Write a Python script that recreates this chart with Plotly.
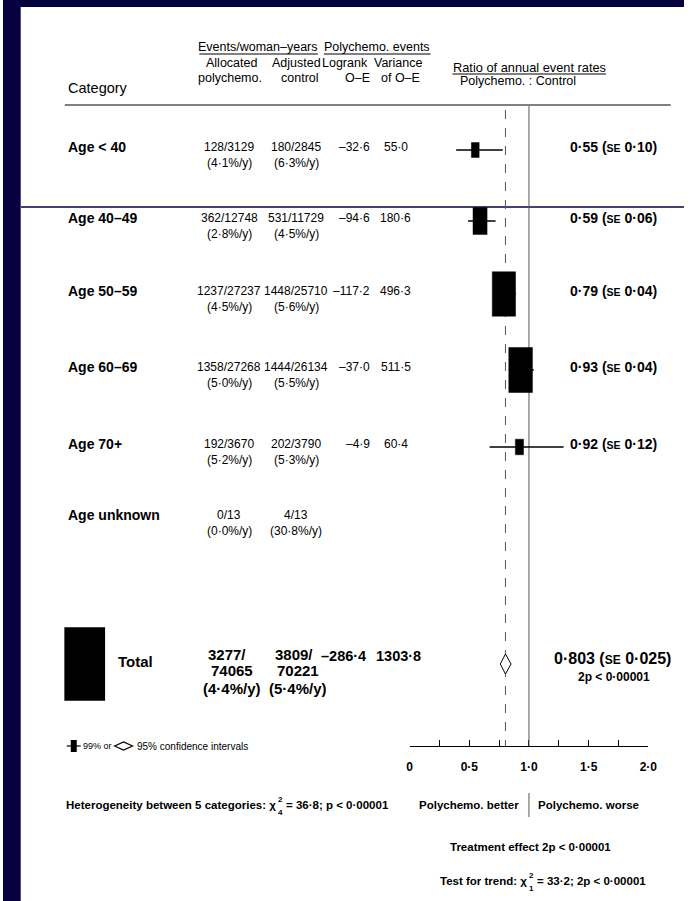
import plotly.graph_objects as go

# ---------------- data ----------------
categories = ["Age < 40", "Age 40–49", "Age 50–59", "Age 60–69", "Age 70+", "Age unknown"]
events_alloc = ["128/3129", "362/12748", "1237/27237", "1358/27268", "192/3670", "0/13"]
rate_alloc = ["(4·1%/y)", "(2·8%/y)", "(4·5%/y)", "(5·0%/y)", "(5·2%/y)", "(0·0%/y)"]
events_ctrl = ["180/2845", "531/11729", "1448/25710", "1444/26134", "202/3790", "4/13"]
rate_ctrl = ["(6·3%/y)", "(4·5%/y)", "(5·6%/y)", "(5·5%/y)", "(5·3%/y)", "(30·8%/y)"]
o_minus_e = [-32.6, -94.6, -117.2, -37.0, -4.9, None]
variance = [55.0, 180.6, 496.3, 511.5, 60.4, None]
ratio = [0.55, 0.59, 0.79, 0.93, 0.92, None]
ratio_se = [0.10, 0.06, 0.04, 0.04, 0.12, None]
ci99_lo = [0.39, 0.49, 0.70, 0.83, 0.67, None]
ci99_hi = [0.78, 0.72, 0.89, 1.04, 1.29, None]

total_alloc = ["3277/", "74065", "(4·4%/y)"]
total_ctrl = ["3809/", "70221", "(5·4%/y)"]
total_oe = -286.4
total_var = 1303.8
total_ratio = 0.803
total_se = 0.025
total_ci95 = [0.76, 0.85]

axis_ticks = [0, 0.5, 1.0, 1.5, 2.0]
axis_ticklabels = ["0", "0·5", "1·0", "1·5", "2·0"]
axis_minor = [0.25, 0.75, 1.25, 1.75]

# ---------------- layout helpers ----------------
W, H = 693, 901
SX = 0.986                       # horizontal compensation of the page capture
XR = W * SX                      # range of the pixel x axis
NAVY = "#060040"
FONT = "Liberation Sans, Arial, Helvetica, sans-serif"
row_y = [147, 218, 291, 367, 444, 515]
box_dy = 3
sub_dy = 16
total_y = 664
axis_y = 746
x_px0, x_px1 = 408, 647.5        # target positions of 0 and 2 on the ratio scale
px_per_unit = (x_px1 - x_px0) / 2.0


def fmt(v, nd=1):
    s = f"{abs(v):.{nd}f}".replace(".", "·")
    return ("–" if v < 0 else "") + s


fig = go.Figure()
ann = []
shapes = []


def text(x, y, s, size=12, bold=False, xanchor="center", yanchor="middle", color="black"):
    ann.append(dict(x=x, y=y, xref="x", yref="y", text=(f"<b>{s}</b>" if bold else s),
                    showarrow=False, xanchor=xanchor, yanchor=yanchor,
                    font=dict(family=FONT, size=size, color=color)))


def pline(x0, y0, x1, y1, color="black", width=1, dash=None, xref="x"):
    d = dict(type="line", x0=x0, y0=y0, x1=x1, y1=y1, xref=xref, yref="y",
             line=dict(color=color, width=width))
    if dash:
        d["line"]["dash"] = dash
    shapes.append(d)


# background bands
shapes.append(dict(type="rect", xref="paper", yref="paper", x0=0, x1=18 / W, y0=0, y1=1,
                   fillcolor=NAVY, line=dict(width=0), layer="below"))
shapes.append(dict(type="rect", xref="paper", yref="paper", x0=0, x1=1, y0=1 - 7 / H, y1=1,
                   fillcolor=NAVY, line=dict(width=0), layer="below"))

# ---------------- header ----------------
HS = 12.5
text(256, 47, "Events/woman–years", HS)
pline(197, 54, 316, 54)
text(375, 47, "Polychemo. events", HS)
pline(322, 54, 429, 54)
text(229, 63, "Allocated", HS)
text(294, 63, "Adjusted", HS)
text(343, 63, "Logrank", HS)
text(396, 63, "Variance", HS)
text(228, 78, "polychemo.", HS)
text(298, 78, "control", HS)
text(356, 78, "O–E", HS)
text(399, 78, "of O–E", HS)
text(63, 88, "Category", 14.5, xanchor="left")
text(528, 67, "Ratio of annual event rates", 12.8)
pline(451, 74, 605, 74)
text(517, 81, "Polychemo. : Control", HS)
pline(62, 105, 670, 105, width=1.2)

# navy horizontal rule across the slide
pline(18, 207, XR, 207, color=NAVY, width=1.5)

# ---------------- reference lines ----------------
pline(1.0, 106, 1.0, axis_y, color="#555555", width=1, xref="x2")
pline(total_ratio, 110, total_ratio, axis_y, color="#555555", width=1, dash="dash", xref="x2")

# ---------------- rows ----------------
NS = 12
for i, cat in enumerate(categories):
    y = row_y[i]
    text(63, y, cat, 14, bold=True, xanchor="left")
    text(227, y, events_alloc[i], NS)
    text(227, y + sub_dy, rate_alloc[i], NS)
    text(294, y, events_ctrl[i], NS)
    text(294, y + sub_dy, rate_ctrl[i], NS)
    if o_minus_e[i] is not None:
        text(370, y, fmt(o_minus_e[i]), NS, xanchor="right")
        text(394, y, fmt(variance[i]), NS)
    if ratio[i] is not None:
        text(658, y, f"{fmt(ratio[i], 2)} (<span style='font-size:10.5px'>SE</span> {fmt(ratio_se[i], 2)})",
             14, bold=True, xanchor="right")
        # box: area proportional to variance
        w_px = (1.1 * variance[i]) ** 0.5
        h_px = 1.9 * w_px
        w_u = w_px / px_per_unit
        yb = y + box_dy
        pline(ci99_lo[i], yb, ci99_hi[i], yb, width=1.3, xref="x2")
        shapes.append(dict(type="rect", xref="x2", yref="y",
                           x0=ratio[i] - w_u / 2, x1=ratio[i] + w_u / 2,
                           y0=yb - h_px / 2, y1=yb + h_px / 2,
                           fillcolor="black", line=dict(color="black", width=0.5)))
        if ci99_lo[i] >= ratio[i] - w_u / 2 and ci99_hi[i] <= ratio[i] + w_u / 2:
            pline(ci99_lo[i], yb, ci99_hi[i], yb, color="white", width=1.3, xref="x2")

# invisible trace to activate the axes
fig.add_trace(go.Scatter(x=ratio[:5], y=[row_y[k] + box_dy for k in range(5)], xaxis="x2", yaxis="y",
                         mode="markers", marker=dict(size=1, color="rgba(0,0,0,0)"),
                         hoverinfo="skip", showlegend=False))

# ---------------- total ----------------
tw = (1.1 * total_var) ** 0.5 + 3
shapes.append(dict(type="rect", xref="x", yref="y", x0=82 - tw / 2, x1=82 + tw / 2,
                   y0=total_y - 1.8 * tw / 2, y1=total_y + 1.8 * tw / 2,
                   fillcolor="black", line=dict(width=0)))
text(113, total_y - 3, "Total", 15, bold=True, xanchor="left")
stack_y = [654, 670, 688]
for k, (a, c) in enumerate(zip(total_alloc, total_ctrl)):
    text(230 if k else 225, stack_y[k], a, 15, bold=True)
    text(296 if k else 292, stack_y[k], c, 15, bold=True)
text(366, 656, fmt(total_oe), 14.5, bold=True, xanchor="right")
text(397, 656, fmt(total_var), 14.5, bold=True)
dh = 10
lo, hi = total_ci95
shapes.append(dict(type="path", xref="x2", yref="y",
                   path=f"M {lo} {total_y} L {total_ratio} {total_y - dh} L {hi} {total_y} "
                        f"L {total_ratio} {total_y + dh} Z",
                   fillcolor="white", line=dict(color="black", width=1)))
text(672, 658, f"{fmt(total_ratio, 3)} (<span style='font-size:12px'>SE</span> {fmt(total_se, 3)})",
     16, bold=True, xanchor="right")
text(613, 677, "2p < 0·00001", 12, bold=True)

# ---------------- legend line ----------------
pline(64, axis_y, 78, axis_y, width=1.2)
shapes.append(dict(type="rect", xref="x", yref="y", x0=68, x1=74, y0=axis_y - 6, y1=axis_y + 6,
                   fillcolor="black", line=dict(width=0)))
text(78, axis_y, "99% or", 9, xanchor="left")
shapes.append(dict(type="path", xref="x", yref="y",
                   path=f"M 112 {axis_y} L 121 {axis_y - 4} L 130 {axis_y} L 121 {axis_y + 4} Z",
                   fillcolor="white", line=dict(color="black", width=1.2)))
text(132, axis_y, "95% confidence intervals", 10, xanchor="left")

# ---------------- bottom texts ----------------
BS = 11.5
BY = 805


def chi_line(x_chi, y, left, sup, sub, right):
    text(x_chi, y, left, BS, bold=True, xanchor="right")
    text(x_chi + 2.5, y - 6, sup, 8, bold=True)
    text(x_chi + 2.5, y + 7, sub, 8, bold=True)
    text(x_chi + 6, y, right, BS, bold=True, xanchor="left")


chi_line(276, BY, "Heterogeneity between 5 categories: χ", "2", "4", "= 36·8; p < 0·00001")
text(520, BY, "Polychemo. better", BS, bold=True, xanchor="right")
pline(1.0, BY - 12, 1.0, BY + 12, color="#555555", width=1, xref="x2")
text(535, BY, "Polychemo. worse", BS, bold=True, xanchor="left")
text(529, 847, "Treatment effect 2p < 0·00001", BS, bold=True)
chi_line(528, 881, "Test for trend: χ", "2", "1", "= 33·2; 2p < 0·00001")

fig.update_layout(
    width=W, height=H, margin=dict(l=0, r=0, t=0, b=0),
    paper_bgcolor="white", plot_bgcolor="rgba(0,0,0,0)", showlegend=False,
    xaxis=dict(range=[0, XR], domain=[0, 1], visible=False, fixedrange=True),
    yaxis=dict(range=[H, 0], domain=[0, 1], visible=False, fixedrange=True),
    xaxis2=dict(range=[0, 2], domain=[x_px0 / XR, x_px1 / XR], anchor="free",
                position=(H - axis_y) / H, showline=True, linecolor="black", linewidth=1,
                ticks="inside", ticklen=6, tickcolor="black", tickwidth=1,
                tickvals=axis_ticks, ticktext=axis_ticklabels, ticklabelstandoff=10,
                tickfont=dict(family=FONT, size=12, color="black", weight="bold"),
                minor=dict(tickvals=axis_minor, ticks="inside", ticklen=6, tickcolor="black"),
                showgrid=False, zeroline=False, fixedrange=True),
    annotations=ann, shapes=shapes,
)
fig.write_html("out.html", config={"displayModeBar": False},
               post_script="document.body.style.margin='0px';document.body.style.overflow='hidden';")
